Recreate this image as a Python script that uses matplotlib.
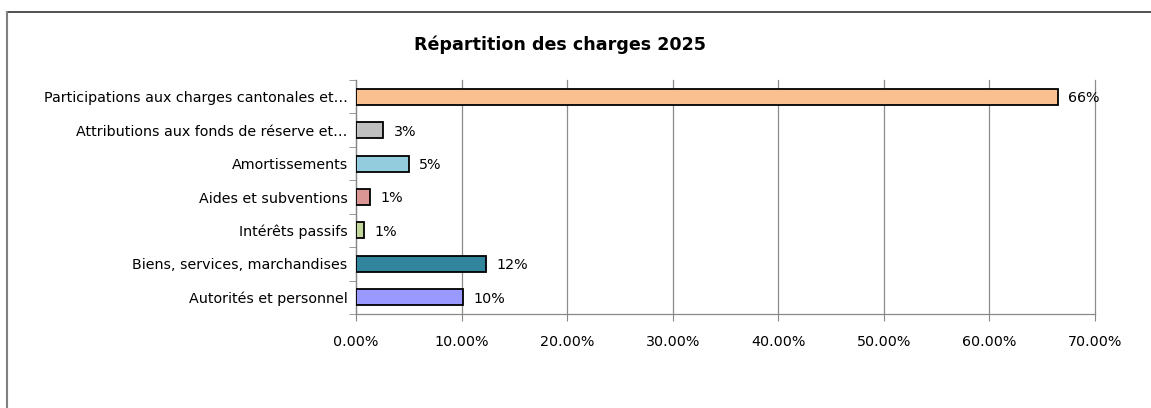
import matplotlib
matplotlib.use("Agg")
import matplotlib.pyplot as plt
from matplotlib.lines import Line2D
from matplotlib.ticker import FuncFormatter, MultipleLocator

categories = [
    "Autorités et personnel",
    "Biens, services, marchandises",
    "Intérêts passifs",
    "Aides et subventions",
    "Amortissements",
    "Attributions aux fonds de réserve et…",
    "Participations aux charges cantonales et…",
]
shares = [10.1, 12.3, 0.8, 1.35, 5.0, 2.6, 66.5]
value_labels = ["10%", "12%", "1%", "1%", "5%", "3%", "66%"]
colors = ["#9999FF", "#31859C", "#C3D69B", "#D99694", "#93CDDD", "#BFBFBF", "#FAC090"]

plt.rcParams["font.family"] = "DejaVu Sans"
plt.rcParams["font.size"] = 10

fig = plt.figure(figsize=(11.51, 4.08), dpi=100)
W, H = 1151, 408
ax = fig.add_axes([356 / W, 1 - 314 / H, (1095 - 356) / W, (314 - 80) / H])

ypos = list(range(len(categories)))
ax.barh(ypos, shares, height=0.48, color=colors, edgecolor="black", linewidth=1.3, zorder=3)

for y, v, lab in zip(ypos, shares, value_labels):
    ax.annotate(lab, (v, y), xytext=(7.5, -1), textcoords="offset points",
                va="center", ha="left", fontsize=10.3, color="black")

ax.set_xlim(0, 70)
ax.set_ylim(-0.5, len(categories) - 0.5)
ax.xaxis.set_major_locator(MultipleLocator(10))
ax.xaxis.set_major_formatter(FuncFormatter(lambda x, p: f"{x:.2f}%"))
ax.set_yticks(ypos)
ax.set_yticklabels(categories, fontsize=10.3)
ax.set_yticks([i - 0.5 for i in range(len(categories) + 1)], minor=True)
ax.tick_params(axis="y", which="major", length=0, pad=6)
ax.tick_params(axis="y", which="minor", length=5, color="#888888", direction="out")
ax.tick_params(axis="x", length=5, color="#888888", direction="out", pad=10, labelsize=10.3)

ax.grid(axis="x", color="#8C8C8C", linewidth=0.9, zorder=0)
for gl in ax.get_xgridlines():
    gl.set_clip_on(False)
ax.set_axisbelow(True)
for side in ["top", "right"]:
    ax.spines[side].set_visible(False)
for side in ["left", "bottom"]:
    ax.spines[side].set_color("#888888")
    ax.spines[side].set_linewidth(0.9)

fig.text(560 / W, 1 - 45 / H, "Répartition des charges 2025", ha="center", va="center",
         fontsize=12.6, fontweight="bold")

# chart frame (only top and left edges visible in the crop)
fig.add_artist(Line2D([6.5 / W, 1], [1 - 12 / H, 1 - 12 / H], transform=fig.transFigure,
                      color="#333333", linewidth=1.2))
fig.add_artist(Line2D([6.5 / W, 6.5 / W], [0, 1 - 12 / H], transform=fig.transFigure,
                      color="#808080", linewidth=1.5))

fig.savefig("out.png", dpi=100, facecolor="white")
